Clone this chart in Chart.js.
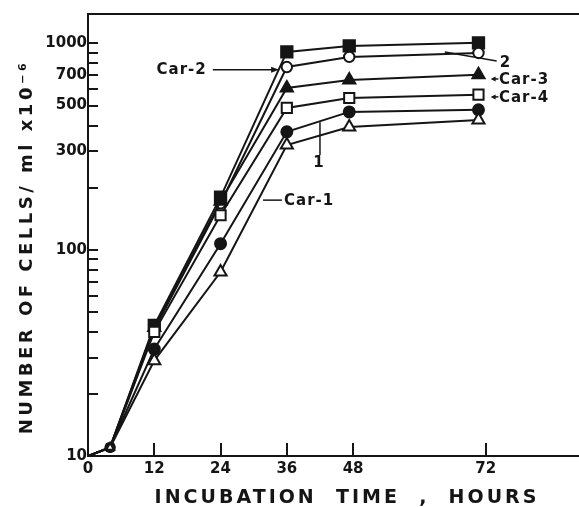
<!DOCTYPE html>
<html>
<head>
<meta charset="utf-8">
<script src="https://cdn.jsdelivr.net/npm/chart.js@4.4.1/dist/chart.umd.min.js"></script>
<style>
  html, body { margin: 0; padding: 0; background: #ffffff; }
  #wrap { width: 579px; height: 507px; position: relative; }
</style>
</head>
<body>
<div id="wrap"><canvas id="c" width="579" height="507"></canvas></div>
<script>
// ---- data ----
const hours       = [0, 4, 12, 24, 36, 47.3, 70.7];
const xTickValues = [0, 12, 24, 36, 48, 72];
const yTickValues = [10, 20, 30, 40, 50, 60, 70, 80, 90, 100, 200, 300, 400, 500, 600, 700, 800, 900, 1000];
const yLabelValues = [10, 100, 300, 500, 700, 1000];

const seriesNames = ['2', 'Car-2', 'Car-3', 'Car-4', '1', 'Car-1'];
const series2  = [10, 11, 43, 180, 910, 973, 1007];
const seriesC2 = [10, 11, 41, 168, 769, 861, 900];
const seriesC3 = [10, 11, 42, 172, 609, 665, 705];
const seriesC4 = [10, 11, 40, 147, 487, 544, 565];
const series1  = [10, 11, 33, 107, 373, 466, 477];
const seriesC1 = [10, 11, 29, 78, 322, 394, 426];

const INK = '#151515';
const FONT = 'DejaVu Sans';

function pts(vals) { return vals.map((v, i) => ({ x: hours[i], y: v })); }
function radii(r) { return hours.map((h, i) => i === 0 ? 0 : (i === 1 ? Math.min(r, 4.5) : r)); }

function ds(label, vals, style, filled, r) {
  return {
    label: label,
    data: pts(vals),
    borderColor: INK,
    borderWidth: 2,
    pointStyle: style,
    pointRadius: radii(r),
    pointBorderWidth: 2,
    pointBorderColor: INK,
    pointBackgroundColor: filled ? INK : '#ffffff',
    tension: 0,
    fill: false
  };
}

const datasets = [
  ds(seriesNames[5], seriesC1, 'triangle', false, 7),
  ds(seriesNames[4], series1,  'circle',   true,  5.5),
  ds(seriesNames[3], seriesC4, 'rect',     false, 7.2),
  ds(seriesNames[2], seriesC3, 'triangle', true,  7),
  ds(seriesNames[1], seriesC2, 'circle',   false, 5.2),
  ds(seriesNames[0], series2,  'rect',     true,  8)
];

// annotation helper
function arrowHead(ctx, tipX, tipY, dirX, dirY, len, half) {
  const px = -dirY, py = dirX;
  ctx.beginPath();
  ctx.moveTo(tipX, tipY);
  ctx.lineTo(tipX - dirX * len + px * half, tipY - dirY * len + py * half);
  ctx.lineTo(tipX - dirX * len - px * half, tipY - dirY * len - py * half);
  ctx.closePath();
  ctx.fill();
}

const decor = {
  id: 'decor',
  afterDraw(chart) {
    const ctx = chart.ctx;
    const a = chart.chartArea;
    const xs = chart.scales.x, ys = chart.scales.y;
    const X = v => xs.getPixelForValue(v);
    const Y = v => ys.getPixelForValue(v);
    ctx.save();
    ctx.strokeStyle = INK;
    ctx.fillStyle = INK;
    // top frame line
    ctx.lineWidth = 2;
    ctx.beginPath();
    ctx.moveTo(a.left - 1, a.top);
    ctx.lineTo(a.right, a.top);
    ctx.stroke();

    // axis titles
    ctx.textAlign = 'center';
    ctx.textBaseline = 'alphabetic';
    ctx.font = 'bold 19px "' + FONT + '"';
    ctx.letterSpacing = '3px';
    ctx.fillText('INCUBATION  TIME  ,  HOURS', 347, 503);

    ctx.save();
    ctx.translate(32, 247);
    ctx.rotate(-Math.PI / 2);
    ctx.font = 'bold 18px "' + FONT + '"';
    ctx.letterSpacing = '3.5px';
    ctx.fillText('NUMBER OF CELLS/ ml x10\u207B\u2076', 0, 0);
    ctx.restore();

    // annotations
    ctx.font = 'bold 15px "' + FONT + '"';
    ctx.letterSpacing = '1px';
    ctx.lineWidth = 1.5;
    ctx.textBaseline = 'middle';

    // Car-2 with arrow
    let y = Y(745);
    ctx.textAlign = 'right';
    ctx.fillText('Car-2', X(21.5), y);
    ctx.beginPath(); ctx.moveTo(X(22.6), y); ctx.lineTo(X(34.6) - 6, y); ctx.stroke();
    arrowHead(ctx, X(34.6), y, 1, 0, 8, 3);

    // "2" with leader
    ctx.beginPath(); ctx.moveTo(X(64.6), Y(910)); ctx.lineTo(X(74.0), Y(823)); ctx.stroke();
    ctx.textAlign = 'center';
    ctx.fillText('2', X(75.6), Y(800));

    // Car-3, Car-4 with small arrows
    [[673, 'Car-3'], [551, 'Car-4']].forEach(([v, t]) => {
      const yy = Y(v);
      ctx.beginPath(); ctx.moveTo(X(72.9) + 3, yy); ctx.lineTo(X(74.3), yy); ctx.stroke();
      arrowHead(ctx, X(72.9), yy, -1, 0, 5, 2.5);
      ctx.textAlign = 'left';
      ctx.fillText(t, X(74.4), yy + 1);
    });

    // "1" with vertical leader
    ctx.beginPath(); ctx.moveTo(X(42.0), Y(415)); ctx.lineTo(X(42.0), Y(288)); ctx.stroke();
    ctx.textAlign = 'center';
    ctx.fillText('1', X(41.8), Y(262));

    // Car-1 with leader
    y = Y(174);
    ctx.beginPath(); ctx.moveTo(X(31.7), y); ctx.lineTo(X(35.1), y); ctx.stroke();
    ctx.textAlign = 'left';
    ctx.fillText('Car-1', X(35.5), y + 1);

    ctx.restore();
  }
};

new Chart(document.getElementById('c'), {
  type: 'line',
  data: { datasets: datasets },
  plugins: [decor],
  options: {
    responsive: false,
    animation: false,
    devicePixelRatio: 1,
    layout: { autoPadding: false, padding: { left: 0, top: 14, right: 0, bottom: 0 } },
    plugins: { legend: { display: false }, tooltip: { enabled: false } },
    scales: {
      x: {
        type: 'linear',
        min: 0,
        max: 88.9,
        afterBuildTicks: s => { s.ticks = xTickValues.map(v => ({ value: v })); },
        afterFit: s => { s.height = 51; s.paddingLeft = 0; s.paddingRight = 0; },
        grid: { drawOnChartArea: false, drawTicks: true, tickLength: -13, color: INK, lineWidth: 2 },
        border: { display: true, color: INK, width: 2 },
        ticks: {
          autoSkip: false, maxRotation: 0, padding: 17, color: INK,
          font: { family: FONT, weight: 'bold', size: 15 },
          callback: v => String(v)
        }
      },
      y: {
        type: 'logarithmic',
        min: 10,
        max: 1390,
        afterBuildTicks: s => { s.ticks = yTickValues.map(v => ({ value: v })); },
        afterFit: s => { s.width = 88; s.paddingTop = 0; s.paddingBottom = 0; },
        grid: { drawOnChartArea: false, drawTicks: true, tickLength: -10, color: INK, lineWidth: 2 },
        border: { display: true, color: INK, width: 2 },
        ticks: {
          autoSkip: false, padding: 11, color: INK,
          font: { family: FONT, weight: 'bold', size: 15 },
          callback: v => yLabelValues.includes(v) ? String(v) : ''
        }
      }
    }
  }
});
</script>
</body>
</html>
